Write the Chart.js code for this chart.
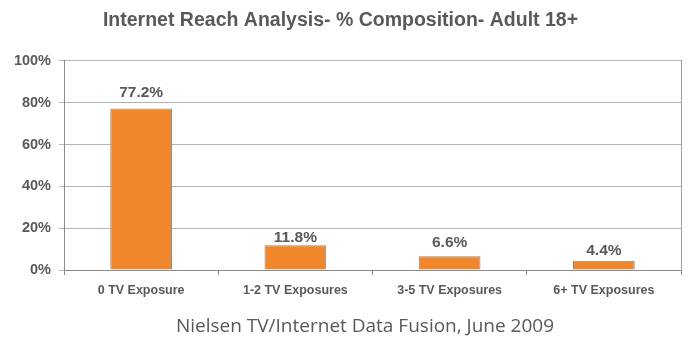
<!DOCTYPE html>
<html>
<head>
<meta charset="utf-8">
<script src="https://cdn.jsdelivr.net/npm/chart.js@4.4.1/dist/chart.umd.min.js"></script>
<style>
  html, body { margin: 0; padding: 0; background: #ffffff; }
  #wrap { width: 689px; height: 344px; position: relative; }
</style>
</head>
<body>
<div id="wrap"><canvas id="c"></canvas></div>
<script>
// Share of adults 18+ reached by the internet, grouped by TV exposure count
const categories = ['0 TV Exposure', '1-2 TV Exposures', '3-5 TV Exposures', '6+ TV Exposures'];
const composition = [77.2, 11.8, 6.6, 4.4];
const yTicks = [0, 20, 40, 60, 80, 100];
const sourceNote = 'Nielsen TV/Internet Data Fusion, June 2009';

const textGray = '#595959';
// pixel gap between each bar top and its value label baseline
const labelGap = [12, 3, 9, 6];

// Writes each bar's value just above it
const valueLabels = {
  id: 'valueLabels',
  afterDatasetsDraw(chart) {
    const { ctx } = chart;
    const meta = chart.getDatasetMeta(0);
    ctx.save();
    ctx.font = 'bold 15.5px "Liberation Sans", Arial, sans-serif';
    ctx.fillStyle = textGray;
    ctx.textAlign = 'center';
    ctx.textBaseline = 'alphabetic';
    meta.data.forEach((bar, i) => {
      ctx.fillText(composition[i].toFixed(1) + '%', bar.x, bar.y - labelGap[i]);
    });
    ctx.restore();
  }
};

// Source line under the chart
const footNote = {
  id: 'footNote',
  afterDraw(chart) {
    const { ctx } = chart;
    ctx.save();
    ctx.font = '19px "Open Sans", "Noto Sans", sans-serif';
    ctx.fillStyle = textGray;
    ctx.textAlign = 'center';
    ctx.textBaseline = 'middle';
    ctx.fillText(sourceNote, 365, 327);
    ctx.restore();
  }
};

new Chart(document.getElementById('c'), {
  type: 'bar',
  data: {
    labels: categories,
    datasets: [{
      data: composition,
      backgroundColor: '#F0872A',
      borderColor: '#8a8a8a',
      borderWidth: 1,
      categoryPercentage: 1.0,
      barPercentage: 0.4
    }]
  },
  options: {
    responsive: true,
    maintainAspectRatio: false,
    animation: false,
    layout: { padding: { left: 0, right: 8, top: 0, bottom: 38 } },
    plugins: {
      legend: { display: false },
      tooltip: { enabled: false },
      title: {
        display: true,
        text: 'Internet Reach Analysis- % Composition- Adult 18+',
        color: textGray,
        font: { family: '"Liberation Sans", Arial, sans-serif', size: 19.5, weight: 'bold' },
        padding: { top: 9, bottom: 28.5 }
      }
    },
    scales: {
      x: {
        grid: {
          offset: true,
          drawOnChartArea: false,
          drawTicks: true,
          tickLength: 5,
          color: '#8a8a8a'
        },
        border: { display: true, color: '#8a8a8a', width: 1 },
        ticks: {
          color: textGray,
          font: { family: '"Liberation Sans", Arial, sans-serif', size: 12.5, weight: 'bold' },
          padding: 8,
          maxRotation: 0
        }
      },
      y: {
        min: 0,
        max: 100,
        afterBuildTicks(scale) {
          scale.ticks = yTicks.map(v => ({ value: v }));
        },
        grid: {
          color: '#b4b4b4',
          drawTicks: true,
          tickLength: 5
        },
        border: { display: true, color: '#8a8a8a', width: 1 },
        ticks: {
          color: textGray,
          font: { family: '"Liberation Sans", Arial, sans-serif', size: 14.5, weight: 'bold' },
          padding: 8,
          callback: v => v + '%'
        },
        afterFit(scale) { scale.width = 64; }
      },
      // frame line on the right edge of the plot
      yRight: {
        position: 'right',
        min: 0,
        max: 100,
        grid: { display: false },
        ticks: { display: false },
        border: { display: true, color: '#a0a0a0', width: 1 },
        afterFit(scale) { scale.width = 0; }
      }
    }
  },
  plugins: [valueLabels, footNote]
});
</script>
</body>
</html>
